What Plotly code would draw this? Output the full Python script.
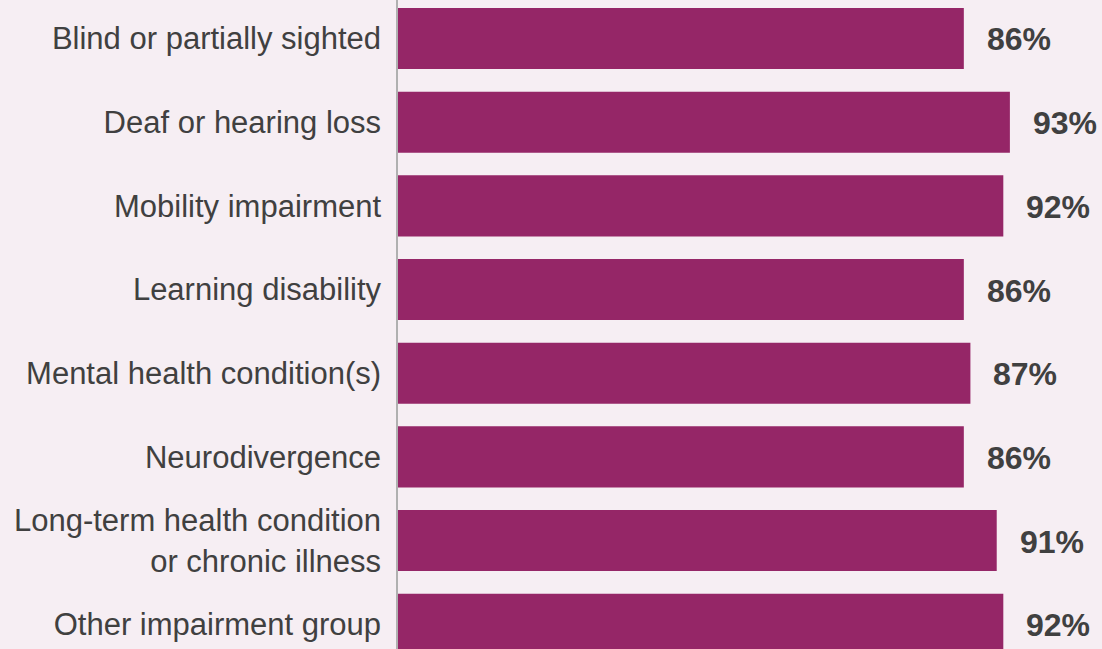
import plotly.graph_objects as go

categories = [
    "Blind or partially sighted",
    "Deaf or hearing loss",
    "Mobility impairment",
    "Learning disability",
    "Mental health condition(s)",
    "Neurodivergence",
    "Long-term health condition<br>or chronic illness",
    "Other impairment group",
]
values = [86, 93, 92, 86, 87, 86, 91, 92]
value_labels = [f"{v}%" for v in values]

BG = "#f6eef3"
BAR = "#952667"
TEXT = "#404040"
FONT = "Liberation Sans, Arial, Helvetica, sans-serif"

fig = go.Figure()
fig.add_trace(go.Bar(
    x=values,
    y=categories,
    orientation="h",
    marker=dict(color=BAR, line=dict(width=0)),
    width=0.73,
    hoverinfo="skip",
))

for cat, v, lab in zip(categories, values, value_labels):
    fig.add_annotation(
        x=v, y=cat, text=f"<b>{lab}</b>", showarrow=False,
        xanchor="left", yanchor="middle", xshift=21, yshift=-1,
        font=dict(family=FONT, size=32, color=TEXT),
    )

fig.update_layout(
    width=1102, height=649,
    margin=dict(l=398, r=0, t=0, b=0, pad=0),
    paper_bgcolor=BG, plot_bgcolor=BG,
    showlegend=False,
    font=dict(family=FONT, size=31, color=TEXT),
)
fig.update_xaxes(
    range=[0, 107.0], showgrid=False, zeroline=False,
    showticklabels=False, showline=False, fixedrange=True,
)
fig.update_yaxes(
    range=[7.296, -0.46], showgrid=False, zeroline=False,
    showline=True, linecolor="#b0b0b0", linewidth=1.5,
    ticks="", ticklabelstandoff=9,
    tickfont=dict(family=FONT, size=31, color=TEXT),
    fixedrange=True,
)

fig.write_html(
    "out.html",
    config={"displayModeBar": False},
    post_script="document.body.style.margin='0';document.body.style.background='%s';" % BG,
)
